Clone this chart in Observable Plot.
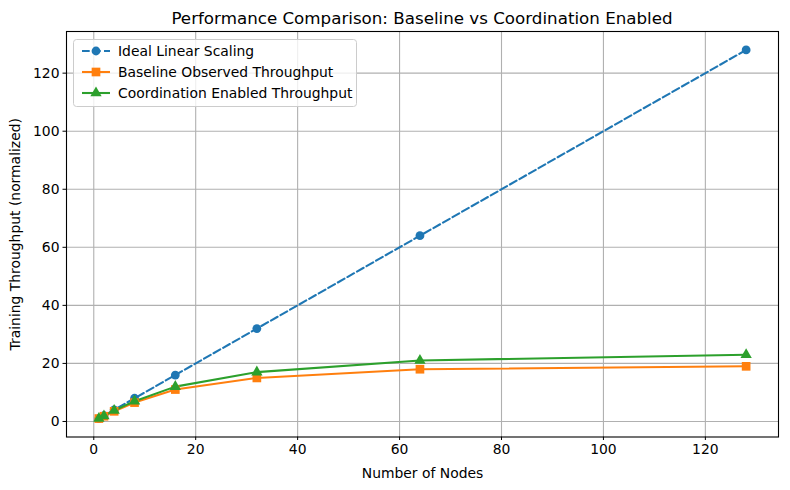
<!DOCTYPE html>
<html><head><meta charset="utf-8">
<script src="https://cdn.jsdelivr.net/npm/d3@7"></script>
<script src="https://cdn.jsdelivr.net/npm/@observablehq/plot@0.6"></script>
<style>
body{margin:0;background:#fff;font-family:"DejaVu Sans",sans-serif}
#wrap{position:relative;width:790px;height:490px}
#title{height:25px;width:790px;position:relative}
#title span{position:absolute;left:422px;top:18px;transform:translate(-50%,-50%);font-size:16.7px;white-space:nowrap;color:#000}
#legend{position:absolute;left:73px;top:39px}
</style></head><body>
<div id="wrap">
<div id="title"><span>Performance Comparison: Baseline vs Coordination Enabled</span></div>
<div id="chart"></div>
<div id="legend"></div>
</div>
<script>
const nodes = [1, 2, 4, 8, 16, 32, 64, 128];
const ideal = [1, 2, 4, 8, 16, 32, 64, 128];
const baseline = [1, 1.8, 3.5, 6.5, 11, 15, 18, 19];
const coordination = [1, 1.9, 3.8, 7, 12, 17, 21, 23];
const seriesNames = ["Ideal Linear Scaling", "Baseline Observed Throughput", "Coordination Enabled Throughput"];
const seriesColors = ["#1f77b4", "#ff7f0e", "#2ca02c"];
const seriesSymbols = ["circle", "square", "triangle"];
const xTicks = [0, 20, 40, 60, 80, 100, 120];
const yTicks = [0, 20, 40, 60, 80, 100, 120];

const values = [ideal, baseline, coordination];
const rows = [];
values.forEach((arr, s) => nodes.forEach((n, i) => rows.push({nodes: n, value: arr[i], series: seriesNames[s]})));

const colorScale = {domain: seriesNames, range: seriesColors};
const symScale = {domain: seriesNames, range: seriesSymbols};

const chart = Plot.plot({
  width: 790, height: 465,
  marginLeft: 66, marginRight: 12, marginTop: 6, marginBottom: 53.5,
  style: {fontFamily: "DejaVu Sans, sans-serif", fontSize: "13.9px", color: "#000", background: "#fff"},
  x: {domain: [-5.35, 134.35]},
  y: {domain: [-5.35, 134.35]},
  color: colorScale,
  symbol: symScale,
  marks: [
    Plot.gridX(xTicks, {stroke: "#b0b0b0", strokeOpacity: 1, strokeWidth: 1.1}),
    Plot.gridY(yTicks, {stroke: "#b0b0b0", strokeOpacity: 1, strokeWidth: 1.1}),
    Plot.axisX(xTicks, {tickSize: 3.5, tickPadding: 3.5, label: "Number of Nodes", labelAnchor: "center", labelArrow: "none", labelOffset: 41, fontSize: "13.9px"}),
    Plot.axisY(yTicks, {tickSize: 3.5, tickPadding: 3.5, label: "Training Throughput (normalized)", labelAnchor: "center", labelArrow: "none", labelOffset: 56, fontSize: "13.9px"}),
    Plot.line(rows.filter(d => d.series === seriesNames[0]), {x: "nodes", y: "value", stroke: "series", strokeWidth: 2.08, strokeDasharray: "7.7,3.3"}),
    Plot.line(rows.filter(d => d.series !== seriesNames[0]), {x: "nodes", y: "value", stroke: "series", z: "series", strokeWidth: 2.08}),
    Plot.dot(rows.filter(d => d.series === seriesNames[0]), {x: "nodes", y: "value", fill: "series", r: 4.4, symbol: "series"}),
    Plot.dot(rows.filter(d => d.series === seriesNames[1]), {x: "nodes", y: "value", fill: "series", r: 4.9, symbol: "series"}),
    Plot.dot(rows.filter(d => d.series === seriesNames[2]), {x: "nodes", y: "value", fill: "series", r: 4.2, symbol: "series"}),
    Plot.frame({stroke: "#000", strokeWidth: 1.1})
  ]
});
document.getElementById("chart").appendChild(chart);

// legend
const lw = 284, lh = 68;
const lg = d3.select("#legend").append("svg").attr("width", lw).attr("height", lh)
  .style("font-family", "DejaVu Sans, sans-serif").style("font-size", "13.9px");
lg.append("rect").attr("x", 0.5).attr("y", 0.5).attr("width", lw - 1).attr("height", lh - 1)
  .attr("rx", 3).attr("fill", "#fff").attr("fill-opacity", 0.8).attr("stroke", "#ccc");
const symPaths = {circle: d3.symbolCircle, square: d3.symbolSquare, triangle: d3.symbolTriangle};
const symSizes = {circle: Math.PI*4.4*4.4, square: Math.PI*4.9*4.9, triangle: Math.PI*4.2*4.2};
seriesNames.forEach((name, i) => {
  const y = 12 + i * 21;
  const g = lg.append("g");
  g.append("line").attr("x1", 9).attr("x2", 37).attr("y1", y).attr("y2", y)
    .attr("stroke", seriesColors[i]).attr("stroke-width", 2.08)
    .attr("stroke-dasharray", i === 0 ? "7.7,3.3" : null);
  g.append("path").attr("d", d3.symbol(symPaths[seriesSymbols[i]], symSizes[seriesSymbols[i]])())
    .attr("transform", `translate(23,${y})`).attr("fill", seriesColors[i]);
  g.append("text").attr("x", 45).attr("y", y).attr("dy", "0.35em").text(name);
});
</script>
</body></html>
